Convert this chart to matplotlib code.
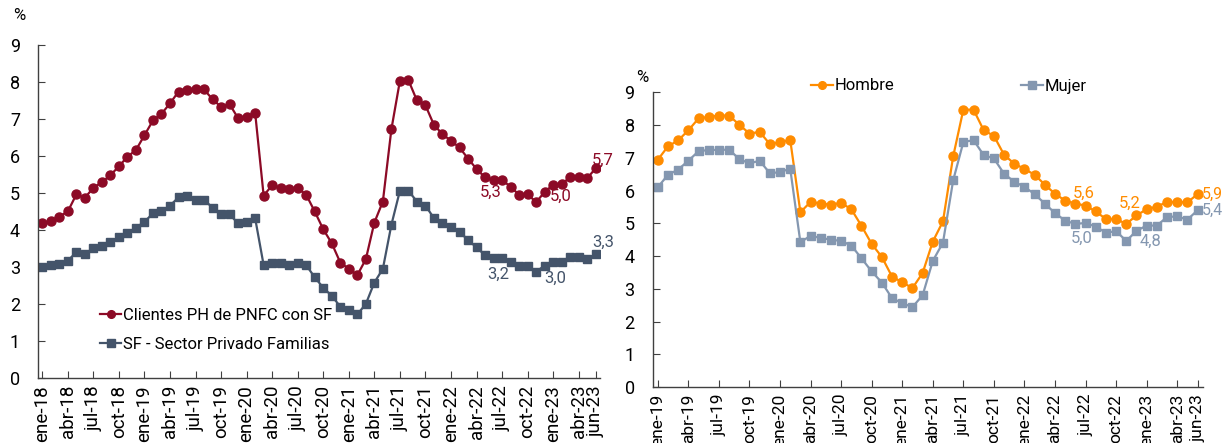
import numpy as np
import matplotlib
matplotlib.use("Agg")
import matplotlib.pyplot as plt

plt.rcParams['font.family'] = ['Roboto', 'DejaVu Sans']

# panel izquierdo: ene-18 a jun-23 (mensual)
clientes_ph = [4.18, 4.25, 4.36, 4.50, 4.96, 4.87, 5.14, 5.29, 5.48, 5.72,
               5.98, 6.16, 6.56, 6.96, 7.14, 7.42, 7.74, 7.78, 7.80, 7.80,
               7.53, 7.33, 7.40, 7.02, 7.06, 7.17, 4.93, 5.21, 5.14, 5.11,
               5.14, 4.95, 4.50, 4.02, 3.64, 3.12, 2.95, 2.78, 3.21, 4.20,
               4.77, 6.72, 8.03, 8.05, 7.50, 7.37, 6.84, 6.59, 6.41, 6.23,
               5.93, 5.65, 5.42, 5.34, 5.35, 5.17, 4.95, 4.97, 4.75, 5.03,
               5.22, 5.25, 5.42, 5.42, 5.40, 5.67]
sf_familias = [2.99, 3.05, 3.09, 3.17, 3.40, 3.36, 3.50, 3.56, 3.68, 3.80,
               3.93, 4.06, 4.22, 4.45, 4.52, 4.66, 4.88, 4.91, 4.82, 4.82,
               4.60, 4.42, 4.42, 4.18, 4.21, 4.32, 3.05, 3.12, 3.12, 3.06,
               3.12, 3.05, 2.72, 2.44, 2.22, 1.93, 1.84, 1.72, 2.00, 2.58,
               2.95, 4.14, 5.06, 5.06, 4.77, 4.66, 4.32, 4.20, 4.09, 3.95,
               3.73, 3.53, 3.32, 3.24, 3.24, 3.14, 3.04, 3.04, 2.87, 3.04,
               3.14, 3.14, 3.28, 3.28, 3.22, 3.34]

# panel derecho: ene-19 a jun-23 (mensual)
hombre = [6.94, 7.35, 7.53, 7.84, 8.20, 8.25, 8.29, 8.29, 8.01, 7.74,
          7.79, 7.42, 7.47, 7.55, 5.34, 5.65, 5.60, 5.57, 5.62, 5.43,
          4.92, 4.37, 3.97, 3.37, 3.20, 3.02, 3.48, 4.44, 5.06, 7.04,
          8.47, 8.47, 7.84, 7.67, 7.09, 6.82, 6.66, 6.48, 6.18, 5.90,
          5.69, 5.60, 5.54, 5.36, 5.13, 5.13, 4.98, 5.24, 5.43, 5.51,
          5.65, 5.65, 5.64, 5.89]
mujer = [6.10, 6.48, 6.64, 6.91, 7.20, 7.24, 7.24, 7.25, 6.96, 6.83,
         6.91, 6.53, 6.56, 6.67, 4.42, 4.62, 4.55, 4.50, 4.46, 4.32,
         3.93, 3.53, 3.19, 2.71, 2.56, 2.44, 2.80, 3.85, 4.41, 6.31,
         7.48, 7.54, 7.08, 6.98, 6.51, 6.27, 6.11, 5.89, 5.60, 5.31,
         5.08, 4.98, 5.01, 4.90, 4.71, 4.76, 4.46, 4.77, 4.93, 4.93,
         5.19, 5.21, 5.11, 5.40]

meses = ['ene', 'abr', 'jul', 'oct']

ROJO = '#8C0A26'
AZUL = '#44546A'
NARANJA = '#FF8C00'
GRIS = '#8497B0'


def etiquetas(anio0, n):
    pos, txt = [], []
    for i in range(0, n, 3):
        pos.append(i)
        txt.append(f"{meses[(i // 3) % 4]}-{(anio0 + i // 12) % 100:02d}")
    pos.append(n - 1)
    txt.append("jun-23")
    return pos, txt


def base(ax, n, xsize):
    ax.set_xlim(-0.5, n - 0.5)
    ax.set_ylim(0, 9)
    ax.set_yticks(range(10))
    for s in ['top', 'right']:
        ax.spines[s].set_visible(False)
    for s in ['left', 'bottom']:
        ax.spines[s].set_color('#404040')
        ax.spines[s].set_linewidth(1)
    ax.tick_params(axis='both', direction='in', length=5, color='#404040')
    ax.tick_params(axis='x', labelsize=xsize, pad=5, labelrotation=90)
    ax.tick_params(axis='y', labelsize=13, pad=13)


def valor(ax, x, y, color, dx, dy, ha='center', size=12):
    ax.annotate(f"{y:.1f}".replace('.', ','), (x, y), xytext=(dx, dy),
                textcoords='offset pixels', color=color, fontsize=size,
                ha=ha, va='center')


fig = plt.figure(figsize=(12.25, 4.43), dpi=100)

# --- izquierda
ax1 = fig.add_axes([38 / 1225, 1 - 378 / 443, 562 / 1225, 333 / 443])
n1 = len(clientes_ph)
x1 = np.arange(n1)
ax1.plot(x1, clientes_ph, color=ROJO, lw=1.6, marker='o', ms=6.5,
         label='Clientes PH de PNFC con SF')
ax1.plot(x1, sf_familias, color=AZUL, lw=1.6, marker='s', ms=6,
         label='SF - Sector Privado Familias')
base(ax1, n1, 13.5)
p, t = etiquetas(2018, n1)
ax1.set_xticks(p)
ax1.set_xticklabels(t, va='top', ha='center')
ax1.text(-0.045, 1.075, '%', transform=ax1.transAxes, fontsize=12, ha='left')

valor(ax1, 53, clientes_ph[53], ROJO, -3, -12)
valor(ax1, 59, clientes_ph[59], ROJO, 16, -4)
valor(ax1, n1 - 1, clientes_ph[-1], ROJO, 7, 8)
valor(ax1, 53, sf_familias[53], AZUL, 5, -16)
valor(ax1, 59, sf_familias[59], AZUL, 11, -13)
valor(ax1, n1 - 1, sf_familias[-1], AZUL, 8, 12)

ax1.legend(loc='upper left', bbox_to_anchor=(0.095, 0.235), frameon=False,
           fontsize=12, handlelength=1.3, handletextpad=0.1,
           labelspacing=0.85, borderpad=0, markerscale=0.85)

# --- derecha
ax2 = fig.add_axes([652.7 / 1225, 1 - 387 / 443, 550 / 1225, 294.7 / 443])
n2 = len(hombre)
x2 = np.arange(n2)
ax2.plot(x2, hombre, color=NARANJA, lw=1.6, marker='o', ms=6.5, label='Hombre')
ax2.plot(x2, mujer, color=GRIS, lw=1.6, marker='s', ms=6, label='Mujer')
base(ax2, n2, 12.5)
p, t = etiquetas(2019, n2)
ax2.set_xticks(p)
ax2.set_xticklabels(t, va='top', ha='center')
ax2.text(-0.03, 1.035, '%', transform=ax2.transAxes, fontsize=12, ha='left')

valor(ax2, 41, hombre[41], NARANJA, 8, 10)
valor(ax2, 47, hombre[47], NARANJA, -7, 12)
valor(ax2, n2 - 1, hombre[-1], NARANJA, 4, 0, ha='left', size=11.5)
valor(ax2, 41, mujer[41], GRIS, 6, -14)
valor(ax2, 47, mujer[47], GRIS, 14, -11)
valor(ax2, n2 - 1, mujer[-1], GRIS, 4, 0, ha='left', size=11.5)

fig.legend(handles=ax2.get_lines(), loc='center left',
           bbox_to_anchor=(803 / 1225, 1 - 86 / 443), ncol=2, frameon=False,
           fontsize=12, handlelength=1.3, handletextpad=0.1,
           columnspacing=7.6, borderpad=0, markerscale=0.85)

fig.savefig('out.png', dpi=100, facecolor='white')
